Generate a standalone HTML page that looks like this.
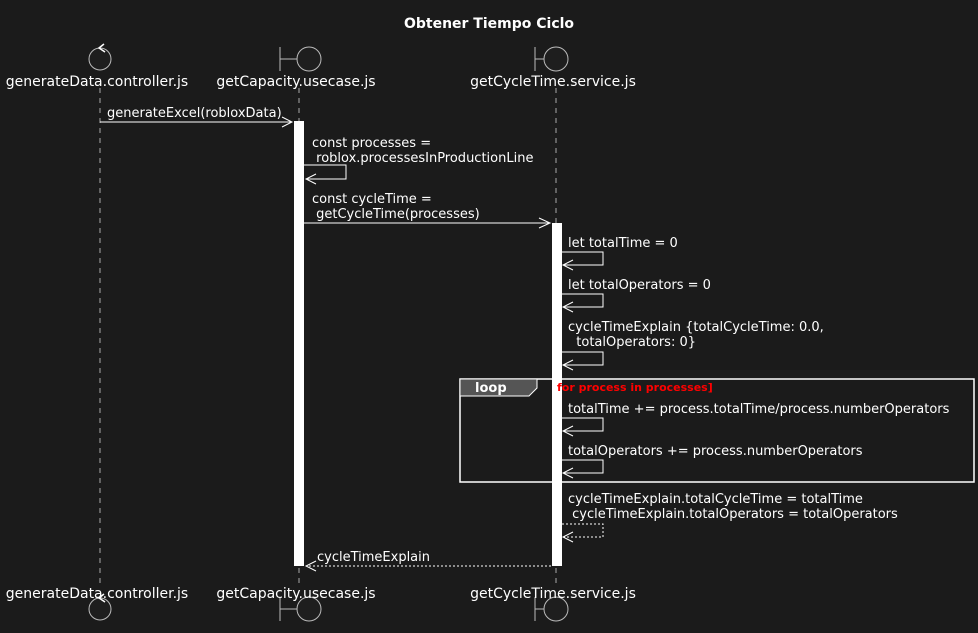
<!DOCTYPE html>
<html><head><meta charset="utf-8"><style>
html,body{margin:0;padding:0;background:#1b1b1b;}
svg{display:block;}
text{font-family:"DejaVu Sans","Liberation Sans",sans-serif;font-size:13px;fill:#fff;white-space:pre;}
.h{font-size:14px;}
</style></head><body>
<svg width="978" height="633" viewBox="0 0 978 633" xmlns="http://www.w3.org/2000/svg" xml:space="preserve">
<rect width="978" height="633" fill="#1b1b1b"/>
<text x="489" y="28" text-anchor="middle" style="font-weight:bold;font-size:14px">Obtener Tiempo Ciclo</text>
<g stroke="#aaa" stroke-dasharray="5,5" stroke-width="1">
<line x1="100" y1="88" x2="100" y2="585"/>
<line x1="299" y1="88" x2="299" y2="585"/>
<line x1="556" y1="88" x2="556" y2="585"/>
</g>
<g stroke="#bbb" fill="#1e1e1e" stroke-width="1">
<circle cx="100" cy="59" r="11"/>
<line x1="280" y1="47" x2="280" y2="71"/><line x1="280" y1="59" x2="297" y2="59"/><circle cx="309" cy="59" r="12"/>
<line x1="535" y1="47" x2="535" y2="71"/><line x1="535" y1="59" x2="544" y2="59"/><circle cx="556" cy="59" r="12"/>
<circle cx="100" cy="609" r="11"/>
<line x1="280" y1="597" x2="280" y2="621"/><line x1="280" y1="609" x2="297" y2="609"/><circle cx="309" cy="609" r="12"/>
<line x1="535" y1="597" x2="535" y2="621"/><line x1="535" y1="609" x2="544" y2="609"/><circle cx="556" cy="609" r="12"/>
</g>
<path d="M104 44 L99 48 L105 52" stroke="#fff" fill="none" stroke-width="1.5"/>
<path d="M104 594 L99 598 L105 602" stroke="#fff" fill="none" stroke-width="1.5"/>
<text class="h" x="97" y="86" text-anchor="middle">generateData.controller.js</text>
<text class="h" x="296" y="86" text-anchor="middle">getCapacity.usecase.js</text>
<text class="h" x="553" y="86" text-anchor="middle">getCycleTime.service.js</text>
<text class="h" x="97" y="598" text-anchor="middle">generateData.controller.js</text>
<text class="h" x="296" y="598" text-anchor="middle">getCapacity.usecase.js</text>
<text class="h" x="553" y="598" text-anchor="middle">getCycleTime.service.js</text>
<rect x="460" y="379" width="514" height="103" fill="none" stroke="#fff" stroke-width="1.5"/>
<path d="M460 379 H537 V388 L529 396 H460 Z" fill="#555" stroke="#fff" stroke-width="1"/>
<text x="475" y="392" style="font-weight:bold">loop</text>
<rect x="294" y="121" width="10" height="445" fill="#fff"/>
<rect x="552" y="223" width="10" height="343" fill="#fff"/>
<text x="557" y="391" style="font-weight:bold;font-size:11px;fill:#ff0000">for process in processes]</text>
<g stroke="#fff" fill="none" stroke-width="1">
<line x1="100" y1="122" x2="292" y2="122"/>
<path d="M282 117 L292 122 L282 127"/>
<path d="M304 165 H346 V179 H306"/><path d="M316 174 L306 179 L316 184"/>
<line x1="304" y1="223" x2="550" y2="223"/><path d="M539 218 L550 223 L539 228"/>
<path d="M562 252 H603 V265 H563"/><path d="M573 260 L563 265 L573 270"/>
<path d="M562 294 H603 V307 H563"/><path d="M573 302 L563 307 L573 312"/>
<path d="M562 352 H603 V365 H563"/><path d="M573 360 L563 365 L573 370"/>
<path d="M562 418 H603 V431 H563"/><path d="M573 426 L563 431 L573 436"/>
<path d="M562 460 H603 V473 H563"/><path d="M573 468 L563 473 L573 478"/>
<path d="M562 524 H603 V537 H563" stroke-dasharray="2,2"/><path d="M573 532 L563 537 L573 542"/>
<line x1="551" y1="566" x2="306" y2="566" stroke-dasharray="2,2"/><path d="M316 561 L306 566 L316 571"/>
</g>
<text x="107" y="117">generateExcel(robloxData)</text>
<text x="312" y="147">const processes =</text>
<text x="312" y="162"> roblox.processesInProductionLine</text>
<text x="312" y="203">const cycleTime =</text>
<text x="312" y="218"> getCycleTime(processes)</text>
<text x="568" y="247">let totalTime = 0</text>
<text x="568" y="289">let totalOperators = 0</text>
<text x="568" y="331">cycleTimeExplain {totalCycleTime: 0.0,</text>
<text x="568" y="346">  totalOperators: 0}</text>
<text x="568" y="413">totalTime += process.totalTime/process.numberOperators</text>
<text x="568" y="455">totalOperators += process.numberOperators</text>
<text x="568" y="503">cycleTimeExplain.totalCycleTime = totalTime</text>
<text x="568" y="518"> cycleTimeExplain.totalOperators = totalOperators</text>
<text x="317" y="561">cycleTimeExplain</text>
</svg>
</body></html>
